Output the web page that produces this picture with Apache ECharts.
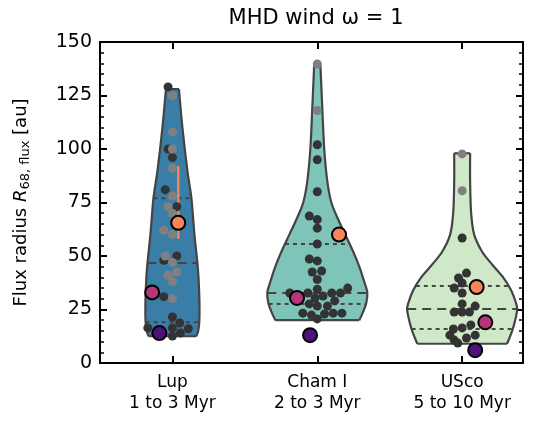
<!DOCTYPE html>
<html><head><meta charset="utf-8">
<script src="https://cdn.jsdelivr.net/npm/echarts@6/dist/echarts.min.js"></script>
<style>html,body{margin:0;padding:0;background:#fff}#c{width:537px;height:426px}</style>
</head><body><div id="c"></div>
<script>
const categories = ['Lup\n1 to 3 Myr', 'Cham I\n2 to 3 Myr', 'USco\n5 to 10 Myr'];
const positions = [1, 2, 3];
const yTicks = [0, 25, 50, 75, 100, 125, 150];
const fills = ['#3a7ea8', '#7fc4b8', '#cfe8c8'];
// violin outlines: [value, half-width in x units]
const profLup = [[12.5,0.165],[15,0.178],[20,0.186],[30,0.186],[40,0.18],[47,0.172],[60,0.152],[77,0.131],[90,0.103],[110,0.069],[128,0.045]];
const profCham = [[20,0.29],[24,0.317],[28,0.338],[33,0.345],[38,0.324],[45,0.29],[52,0.248],[60,0.193],[68,0.138],[75,0.097],[85,0.069],[100,0.048],[120,0.034],[140,0.021]];
const profUSco = [[9,0.31],[15,0.345],[20,0.366],[25,0.38],[28,0.372],[34,0.338],[40,0.283],[46,0.207],[52,0.138],[60,0.083],[70,0.062],[85,0.055],[98,0.055]];
const quartLup = [19, 46.7, 77];
const quartCham = [27.6, 32.7, 55.6];
const quartUSco = [15.9, 25.2, 36];
// points: [offset from position, value]
const darkLup = [[-0.03,129],[-0.03,100],[0,96],[-0.05,81],[0.03,73],[0.03,50],[-0.06,48],[-0.06,31],[0,21.5],[0.05,18.7],[0,16.4],[0.11,16],[0.055,14],[-0.17,16.4],[0,12.6]];
const greyLup = [[0,125],[0,108],[0,100],[0,91],[0,78],[-0.03,73],[0,70],[-0.06,62],[0,60],[-0.05,50],[0,47],[0.03,42.5],[-0.03,41],[0,38],[0,30]];
const darkCham = [[0,102],[0,95],[0,80],[-0.055,68.7],[0,67],[0,63],[0,55.6],[-0.055,48.6],[0,47.7],[-0.035,42.5],[0.03,43],[0,39],[0,34.5],[0.21,35],[-0.19,32.7],[-0.065,32.7],[0.04,31.3],[0.1,32.7],[0.16,32.7],[-0.015,30.4],[0.12,29],[-0.055,27.6],[0,26.6],[0.07,26.6],[-0.1,23.3],[-0.04,22.4],[0.05,22.9],[0.11,23.3],[0.17,23.3],[0,20.6]];
const greyCham = [[0,139.7],[0,118]];
const darkUSco = [[0,58.4],[0.03,42],[-0.025,39.7],[0,37.4],[-0.055,35],[0,32.7],[0,27.6],[0.09,26.6],[-0.055,23.8],[0,23.8],[0.05,23.8],[0.06,17.8],[0,16.4],[-0.06,15.9],[-0.085,13],[0.09,13],[-0.055,10.7],[0.03,11.7],[-0.03,9.3]];
const greyUSco = [[0,97.7],[0,80.5]];
const orangePts = [[0.04,65.5],[0.15,60],[0.1,35.5]];
const orangeErr = [[58,92]];
const magentaPts = [[-0.14,33],[-0.14,30.4],[0.16,19]];
const purplePts = [[-0.09,14],[-0.05,13],[0.09,6]];

const profiles = [profLup, profCham, profUSco];
const quarts = [quartLup, quartCham, quartUSco];
const darks = [darkLup, darkCham, darkUSco];
const greys = [greyLup, greyCham, greyUSco];

function halfAt(prof, v) {
  for (let i = 0; i < prof.length - 1; i++) {
    if (v >= prof[i][0] && v <= prof[i+1][0]) {
      const t = (v - prof[i][0]) / (prof[i+1][0] - prof[i][0]);
      return prof[i][1] + t * (prof[i+1][1] - prof[i][1]);
    }
  }
  return prof[0][1];
}
const series = [];
profiles.forEach((prof, k) => {
  const p = positions[k];
  series.push({
    type: 'custom', data: [[p, 0]], z: 1,
    renderItem: function (params, api) {
      const right = prof.map(r => api.coord([p + r[1], r[0]]));
      const left = prof.slice().reverse().map(r => api.coord([p - r[1], r[0]]));
      const children = [
        { type: 'polyline', shape: { points: right, smooth: 0.3 }, style: { stroke: '#444', lineWidth: 2.2, fill: null }, z2: 2 },
        { type: 'polyline', shape: { points: left, smooth: 0.3 }, style: { stroke: '#444', lineWidth: 2.2, fill: null }, z2: 2 },
        { type: 'line', shape: { x1: left[left.length-1][0], y1: left[left.length-1][1], x2: right[0][0], y2: right[0][1] }, style: { stroke: '#444', lineWidth: 2.2 }, z2: 2 },
        { type: 'line', shape: { x1: left[0][0], y1: left[0][1], x2: right[right.length-1][0], y2: right[right.length-1][1] }, style: { stroke: '#444', lineWidth: 2.2 }, z2: 2 },
        { type: 'polygon', shape: { points: right.concat(left), smooth: 0 }, style: { fill: fills[k] }, z2: 1 }
      ];
      quarts[k].forEach((q, j) => {
        const h = halfAt(prof, q);
        const a = api.coord([p - h, q]), b = api.coord([p + h, q]);
        children.push({ type: 'line', z2: 3, shape: { x1: a[0], y1: a[1], x2: b[0], y2: b[1] },
          style: { stroke: '#444', lineWidth: 2, lineDash: j === 1 ? [9, 6] : [4, 4] } });
      });
      return { type: 'group', children };
    }
  });
});
series.push({
  type: 'custom', z: 3, data: orangeErr.map(e => [positions[0] + orangePts[0][0], e[0], e[1]]),
  renderItem: function (params, api) {
    const a = api.coord([api.value(0), api.value(1)]), b = api.coord([api.value(0), api.value(2)]);
    return { type: 'line', shape: { x1: a[0], y1: a[1], x2: b[0], y2: b[1] }, style: { stroke: '#f9845a', lineWidth: 2.5 } };
  }
});
const toXY = (arr, k) => arr.map(d => [positions[k] + d[0], d[1]]);
darks.forEach((arr, k) => series.push({ type: 'scatter', z: 4, symbolSize: 9, data: toXY(arr, k), itemStyle: { color: '#333', opacity: 1 } }));
greys.forEach((arr, k) => series.push({ type: 'scatter', z: 4, symbolSize: 9, data: toXY(arr, k), itemStyle: { color: '#808080', opacity: 1 } }));
const big = (arr, col) => ({ type: 'scatter', z: 5, symbolSize: 14, data: arr.map((d, k) => [positions[k] + d[0], d[1]]), itemStyle: { color: col, borderColor: '#000', borderWidth: 2, opacity: 1 } });
series.push(big(orangePts, '#f9845a'), big(magentaPts, '#b5367a'), big(purplePts, '#4f127b'));

const axLine = { show: true, onZero: false, lineStyle: { color: '#000', width: 2 } };
const tick = { inside: true, length: 7, lineStyle: { color: '#000', width: 2 } };
const chart = echarts.init(document.getElementById('c'));
chart.setOption({
  animation: false,
  title: { text: 'MHD wind ω = 1', left: 311, top: 3, textAlign: 'center',
    textStyle: { fontFamily: 'DejaVu Sans', fontSize: 21, fontWeight: 'normal', color: '#000' } },
  grid: { left: 100, right: 14, top: 42, bottom: 63 },
  xAxis: [{ type: 'value', min: 0.5, max: 3.42, splitLine: { show: false }, axisLine: axLine,
    axisTick: Object.assign({ customValues: positions }, tick),
    axisLabel: { customValues: positions, formatter: v => categories[Math.round(v) - 1], margin: 9,
      fontFamily: 'DejaVu Sans', fontSize: 17, color: '#000', lineHeight: 21 } },
    { type: 'value', position: 'top', min: 0.5, max: 3.42, splitLine: { show: false }, axisLine: axLine,
      axisTick: Object.assign({ customValues: positions }, tick), axisLabel: { show: false } }],
  yAxis: [{ type: 'value', min: 0, max: 150, interval: 25, splitLine: { show: false },
    name: '{n|Flux radius }{i|R}{s|68, flux}{n| [au]}', nameLocation: 'middle', nameGap: 68,
    nameTextStyle: { rich: { n: { fontFamily: 'DejaVu Sans', fontSize: 18, color: '#000' },
      i: { fontFamily: 'DejaVu Sans', fontStyle: 'italic', fontSize: 18, color: '#000' },
      s: { fontFamily: 'DejaVu Sans', fontSize: 13, color: '#000', padding: [8, 0, 0, 0] } } },
    axisLine: axLine, axisTick: tick,
    minorTick: { show: true, splitNumber: 5, length: 4, lineStyle: { color: '#000', width: 1.5 } },
    axisLabel: { fontFamily: 'DejaVu Sans', fontSize: 19, color: '#000', margin: 8, customValues: yTicks } },
    { type: 'value', position: 'right', min: 0, max: 150, interval: 25, splitLine: { show: false },
      axisLine: axLine, axisTick: tick,
      minorTick: { show: true, splitNumber: 5, length: 4, lineStyle: { color: '#000', width: 1.5 } },
      axisLabel: { show: false } }],
  series
});
</script></body></html>
